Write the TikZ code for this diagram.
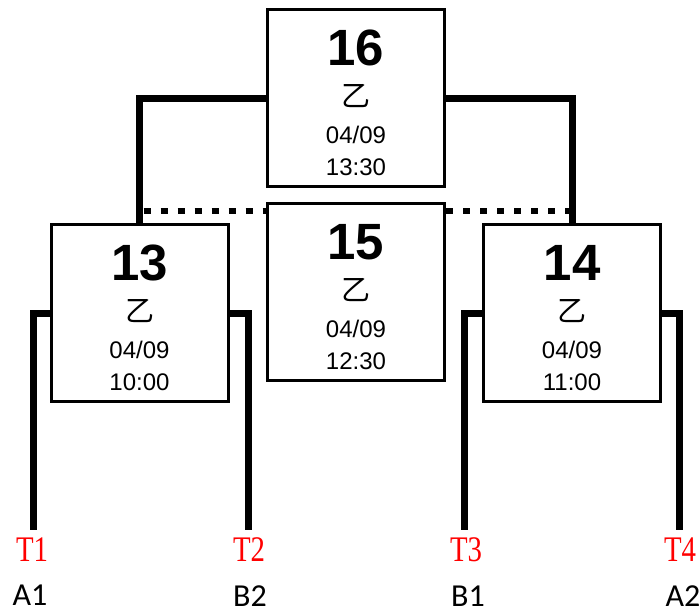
\documentclass[tikz,border=0pt]{standalone}
\usepackage{fontspec}
\setmainfont{Liberation Sans}
\newfontfamily\cjk{Noto Sans CJK SC}
\newfontfamily\tlab[FakeStretch=0.8]{Liberation Serif}
\newfontfamily\alab{Carlito}
\begin{document}
\begin{tikzpicture}[x=1pt,y=-1pt,
  box/.style={draw,line width=3pt,minimum width=177pt,minimum height=177pt,inner sep=0pt,fill=white},
  conn/.style={line width=7pt},
  dotline/.style={line width=6.5pt,dash pattern=on 7pt off 10pt},
  numtxt/.style={inner sep=0pt,font=\fontsize{51}{51}\selectfont\bfseries},
  cjktxt/.style={inner sep=0pt,font=\fontsize{29}{29}\selectfont\cjk},
  datetxt/.style={inner sep=0pt,font=\fontsize{24}{24}\selectfont},
  tlabel/.style={inner sep=0pt,text=red,text height=24pt,text depth=0pt,font=\fontsize{36}{36}\selectfont\tlab},
  alabel/.style={inner sep=0pt,text height=21pt,text depth=0pt,font=\fontsize{32}{32}\selectfont\alab}]
\useasboundingbox (0,0) rectangle (700,614);

\newcommand{\matchbox}[6]{%
  \node[box] (#1) at (#2,#3) {};
  \node[numtxt] (#1n) at ([yshift=-40pt]#1.north) {#4};
  \node[cjktxt] (#1c) at ([yshift=-88pt]#1.north) {乙};
  \node[datetxt] (#1d) at ([yshift=-127pt]#1.north) {#5};
  \node[datetxt] (#1t) at ([yshift=-159pt]#1.north) {#6};
}

\coordinate (e1) at (33,530);
\coordinate (e2) at (248.5,530);
\coordinate (e3) at (464.5,530);
\coordinate (e4) at (679.5,530);
\coordinate (dl) at (143.5,211);
\coordinate (dr) at (568.5,211);

\matchbox{b16}{356}{98}{16}{04/09}{13:30}
\matchbox{b15}{356}{292}{15}{04/09}{12:30}
\matchbox{b13}{139.5}{313}{13}{04/09}{10:00}
\matchbox{b14}{572}{313}{14}{04/09}{11:00}

\draw[conn] (b16.west) -| (b13.north);
\draw[conn] (b16.east) -| (b14.north);
\draw[dotline] (dl) -- (dl -| b15.west);
\draw[dotline] (dr -| b15.east) -- (dr);

\draw[conn] (b13.west) -| (e1);
\draw[conn] (b13.east) -| (e2);
\draw[conn] (b14.west) -| (e3);
\draw[conn] (b14.east) -| (e4);

\node[tlabel] (t1) at (32,549) {T1};
\node[tlabel] (t2) at (249,549) {T2};
\node[tlabel] (t3) at (466,549) {T3};
\node[tlabel] (t4) at (680,549) {T4};

\node[alabel] (a1) at (30,595) {A1};
\node[alabel] (b2) at (250,596) {B2};
\node[alabel] (b1) at (468,596) {B1};
\node[alabel] (a2) at (683,596) {A2};
\end{tikzpicture}
\end{document}
